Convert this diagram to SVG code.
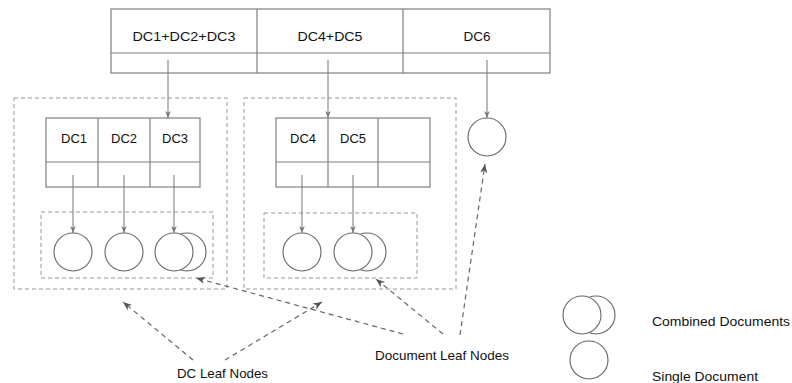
<svg xmlns="http://www.w3.org/2000/svg" width="792" height="383" viewBox="0 0 792 383">
<style>
.box{fill:#fff;stroke:#808080;stroke-width:1.2}
.grp{fill:none;stroke:#999;stroke-width:1;stroke-dasharray:4,3}
.circ{fill:#fff;stroke:#666;stroke-width:1.1}
.t{font-family:"Liberation Sans",Arial,sans-serif;font-size:12px;fill:#111;text-anchor:middle;dominant-baseline:central}
.lbl{font-family:"Liberation Sans",Arial,sans-serif;font-size:13px;fill:#111}
.arr{fill:none;stroke:#777;stroke-width:1;marker-end:url(#ah)}
.darr{fill:none;stroke:#666;stroke-width:1.2;stroke-dasharray:5,4;marker-end:url(#ahd)}
</style>
<defs>
<marker id="ah" viewBox="0 0 10 10" refX="10" refY="5" markerWidth="7" markerHeight="7" markerUnits="userSpaceOnUse" orient="auto">
<path d="M0,1 L10,5 L0,9 L3,5 Z" fill="#777"/>
</marker>
<marker id="ahd" viewBox="0 0 10 10" refX="10" refY="5" markerWidth="9" markerHeight="9" markerUnits="userSpaceOnUse" orient="auto">
<path d="M0,1 L10,5 L0,9 L3,5 Z" fill="#555"/>
</marker>
</defs>

<g id="top-table">
<rect class="box" x="111" y="9" width="439" height="64"/>
<line class="box" x1="111" y1="53" x2="550" y2="53"/>
<line class="box" x1="257" y1="9" x2="257" y2="73"/>
<line class="box" x1="403" y1="9" x2="403" y2="73"/>
<text class="t" x="184" y="37" textLength="103" lengthAdjust="spacingAndGlyphs">DC1+DC2+DC3</text>
<text class="t" x="330" y="37" textLength="65" lengthAdjust="spacingAndGlyphs">DC4+DC5</text>
<text class="t" x="477" y="37" textLength="27" lengthAdjust="spacingAndGlyphs">DC6</text>
</g>

<g id="group-left">
<rect class="grp" x="14" y="98" width="213" height="191"/>
<rect class="grp" x="41" y="212" width="172" height="66"/>
</g>

<g id="group-mid">
<rect class="grp" x="244" y="98" width="212" height="191"/>
<rect class="grp" x="264" y="213" width="153" height="65"/>
</g>

<g id="dc-table-left">
<rect class="box" x="46" y="118" width="154" height="69"/>
<line class="box" x1="46" y1="162" x2="200" y2="162"/>
<line class="box" x1="98" y1="118" x2="98" y2="187"/>
<line class="box" x1="150" y1="118" x2="150" y2="187"/>
<text class="t" x="74" y="139" textLength="26" lengthAdjust="spacingAndGlyphs">DC1</text>
<text class="t" x="124" y="139" textLength="26" lengthAdjust="spacingAndGlyphs">DC2</text>
<text class="t" x="175" y="139" textLength="26" lengthAdjust="spacingAndGlyphs">DC3</text>
</g>

<g id="dc-table-mid">
<rect class="box" x="276" y="118" width="154" height="69"/>
<line class="box" x1="276" y1="162" x2="430" y2="162"/>
<line class="box" x1="328" y1="118" x2="328" y2="187"/>
<line class="box" x1="378" y1="118" x2="378" y2="187"/>
<text class="t" x="303" y="139" textLength="26" lengthAdjust="spacingAndGlyphs">DC4</text>
<text class="t" x="353" y="139" textLength="26" lengthAdjust="spacingAndGlyphs">DC5</text>
</g>

<g id="doc-1"><circle class="circ" cx="73" cy="252" r="19"/></g>
<g id="doc-2"><circle class="circ" cx="124" cy="252" r="19"/></g>
<g id="doc-3"><circle class="circ" cx="187" cy="252" r="19"/><circle class="circ" cx="174" cy="252" r="19"/></g>
<g id="doc-4"><circle class="circ" cx="302" cy="252" r="19"/></g>
<g id="doc-5"><circle class="circ" cx="367" cy="252" r="19"/><circle class="circ" cx="353" cy="252" r="19"/></g>
<g id="doc-6"><circle class="circ" cx="487" cy="137" r="19"/></g>

<g id="connectors">
<line class="arr" x1="168" y1="60" x2="168" y2="118"/>
<line class="arr" x1="328" y1="60" x2="328" y2="118"/>
<line class="arr" x1="487" y1="60" x2="487" y2="118"/>
<line class="arr" x1="73" y1="175" x2="73" y2="233"/>
<line class="arr" x1="124" y1="175" x2="124" y2="233"/>
<line class="arr" x1="174" y1="175" x2="174" y2="233"/>
<line class="arr" x1="302" y1="175" x2="302" y2="233"/>
<line class="arr" x1="353" y1="175" x2="353" y2="233"/>
<line class="darr" x1="460" y1="335" x2="485" y2="164"/>
<line class="darr" x1="443" y1="334" x2="376" y2="279"/>
<line class="darr" x1="403" y1="334" x2="196" y2="278"/>
<line class="darr" x1="193" y1="360" x2="123" y2="302"/>
<line class="darr" x1="225" y1="360" x2="322" y2="302"/>
</g>

<g id="labels">
<text class="lbl" x="177" y="378" textLength="91" lengthAdjust="spacingAndGlyphs">DC Leaf Nodes</text>
<text class="lbl" x="375" y="360" textLength="134" lengthAdjust="spacingAndGlyphs">Document Leaf Nodes</text>
</g>

<g id="legend">
<circle class="circ" cx="596" cy="315" r="19"/><circle class="circ" cx="582" cy="315" r="19"/>
<circle class="circ" cx="589" cy="360" r="19"/>
<text class="lbl" x="652" y="326" textLength="138" lengthAdjust="spacingAndGlyphs">Combined Documents</text>
<text class="lbl" x="652" y="381" textLength="106" lengthAdjust="spacingAndGlyphs">Single Document</text>
</g>
</svg>
